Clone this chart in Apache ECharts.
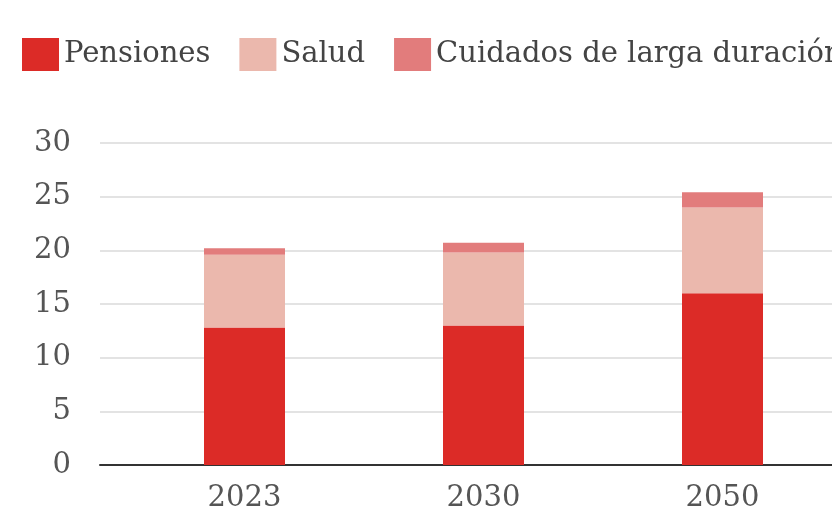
<!DOCTYPE html>
<html>
<head>
<meta charset="utf-8">
<script src="https://cdn.jsdelivr.net/npm/echarts@6/dist/echarts.min.js"></script>
<style>
html,body{margin:0;padding:0;background:#fff;}
#chart{width:832px;height:513px;}
</style>
</head>
<body>
<div id="chart"></div>
<script>
const categories = ["2023", "2030", "2050"];
const pensiones = [12.8, 13.0, 16.0];
const salud = [6.8, 6.8, 8.0];
const cuidados = [0.6, 0.9, 1.4];
const yTicks = [0, 5, 10, 15, 20, 25, 30];

const FONT = "DejaVu Serif";
const chart = echarts.init(document.getElementById('chart'), null, {renderer: 'canvas'});

chart.setOption({
  animation: false,
  backgroundColor: '#fff',
  legend: {
    left: 22, top: 38, padding: 0, width: 1400,
    icon: 'rect', itemWidth: 37, itemHeight: 33, itemGap: 29,
    textStyle: {fontFamily: FONT, fontSize: 29, color: '#444', padding: [3, 0, 0, 0]},
    data: ['Pensiones', 'Salud', 'Cuidados de larga duración']
  },
  grid: [
    {left: 125, right: -10, top: 143, bottom: 48, outerBoundsMode: 'none', containLabel: false},
    {left: 100, right: 0, top: 143, bottom: 48}
  ],
  xAxis: [
    {
      type: 'category', gridIndex: 0, data: categories,
      axisLine: {show: false}, axisTick: {show: false},
      axisLabel: {fontFamily: FONT, fontSize: 29, color: '#555', margin: 19}
    },
    {
      type: 'category', gridIndex: 1, data: categories,
      axisLine: {show: true, lineStyle: {color: '#333', width: 2}},
      axisTick: {show: false}, axisLabel: {show: false}
    }
  ],
  yAxis: [
    {
      type: 'value', gridIndex: 0, min: yTicks[0], max: yTicks[yTicks.length - 1], interval: 5,
      axisLabel: {show: false}, splitLine: {show: false}, axisLine: {show: false}, axisTick: {show: false}
    },
    {
      type: 'value', gridIndex: 1, min: yTicks[0], max: yTicks[yTicks.length - 1], interval: 5,
      axisLine: {show: false}, axisTick: {show: false},
      axisLabel: {fontFamily: FONT, fontSize: 29, color: '#555', margin: 29, padding: [3, 0, 0, 0]},
      splitLine: {lineStyle: {color: '#e3e3e3', width: 2}}
    }
  ],
  series: [
    {name: 'Pensiones', type: 'bar', stack: 'total', xAxisIndex: 0, yAxisIndex: 0,
     barWidth: 81, data: pensiones, itemStyle: {color: '#dc2b27'}},
    {name: 'Salud', type: 'bar', stack: 'total', xAxisIndex: 0, yAxisIndex: 0,
     barWidth: 81, data: salud, itemStyle: {color: '#ebb8ad'}},
    {name: 'Cuidados de larga duración', type: 'bar', stack: 'total', xAxisIndex: 0, yAxisIndex: 0,
     barWidth: 81, data: cuidados, itemStyle: {color: '#e27c7c'}}
  ]
});
</script>
</body>
</html>
